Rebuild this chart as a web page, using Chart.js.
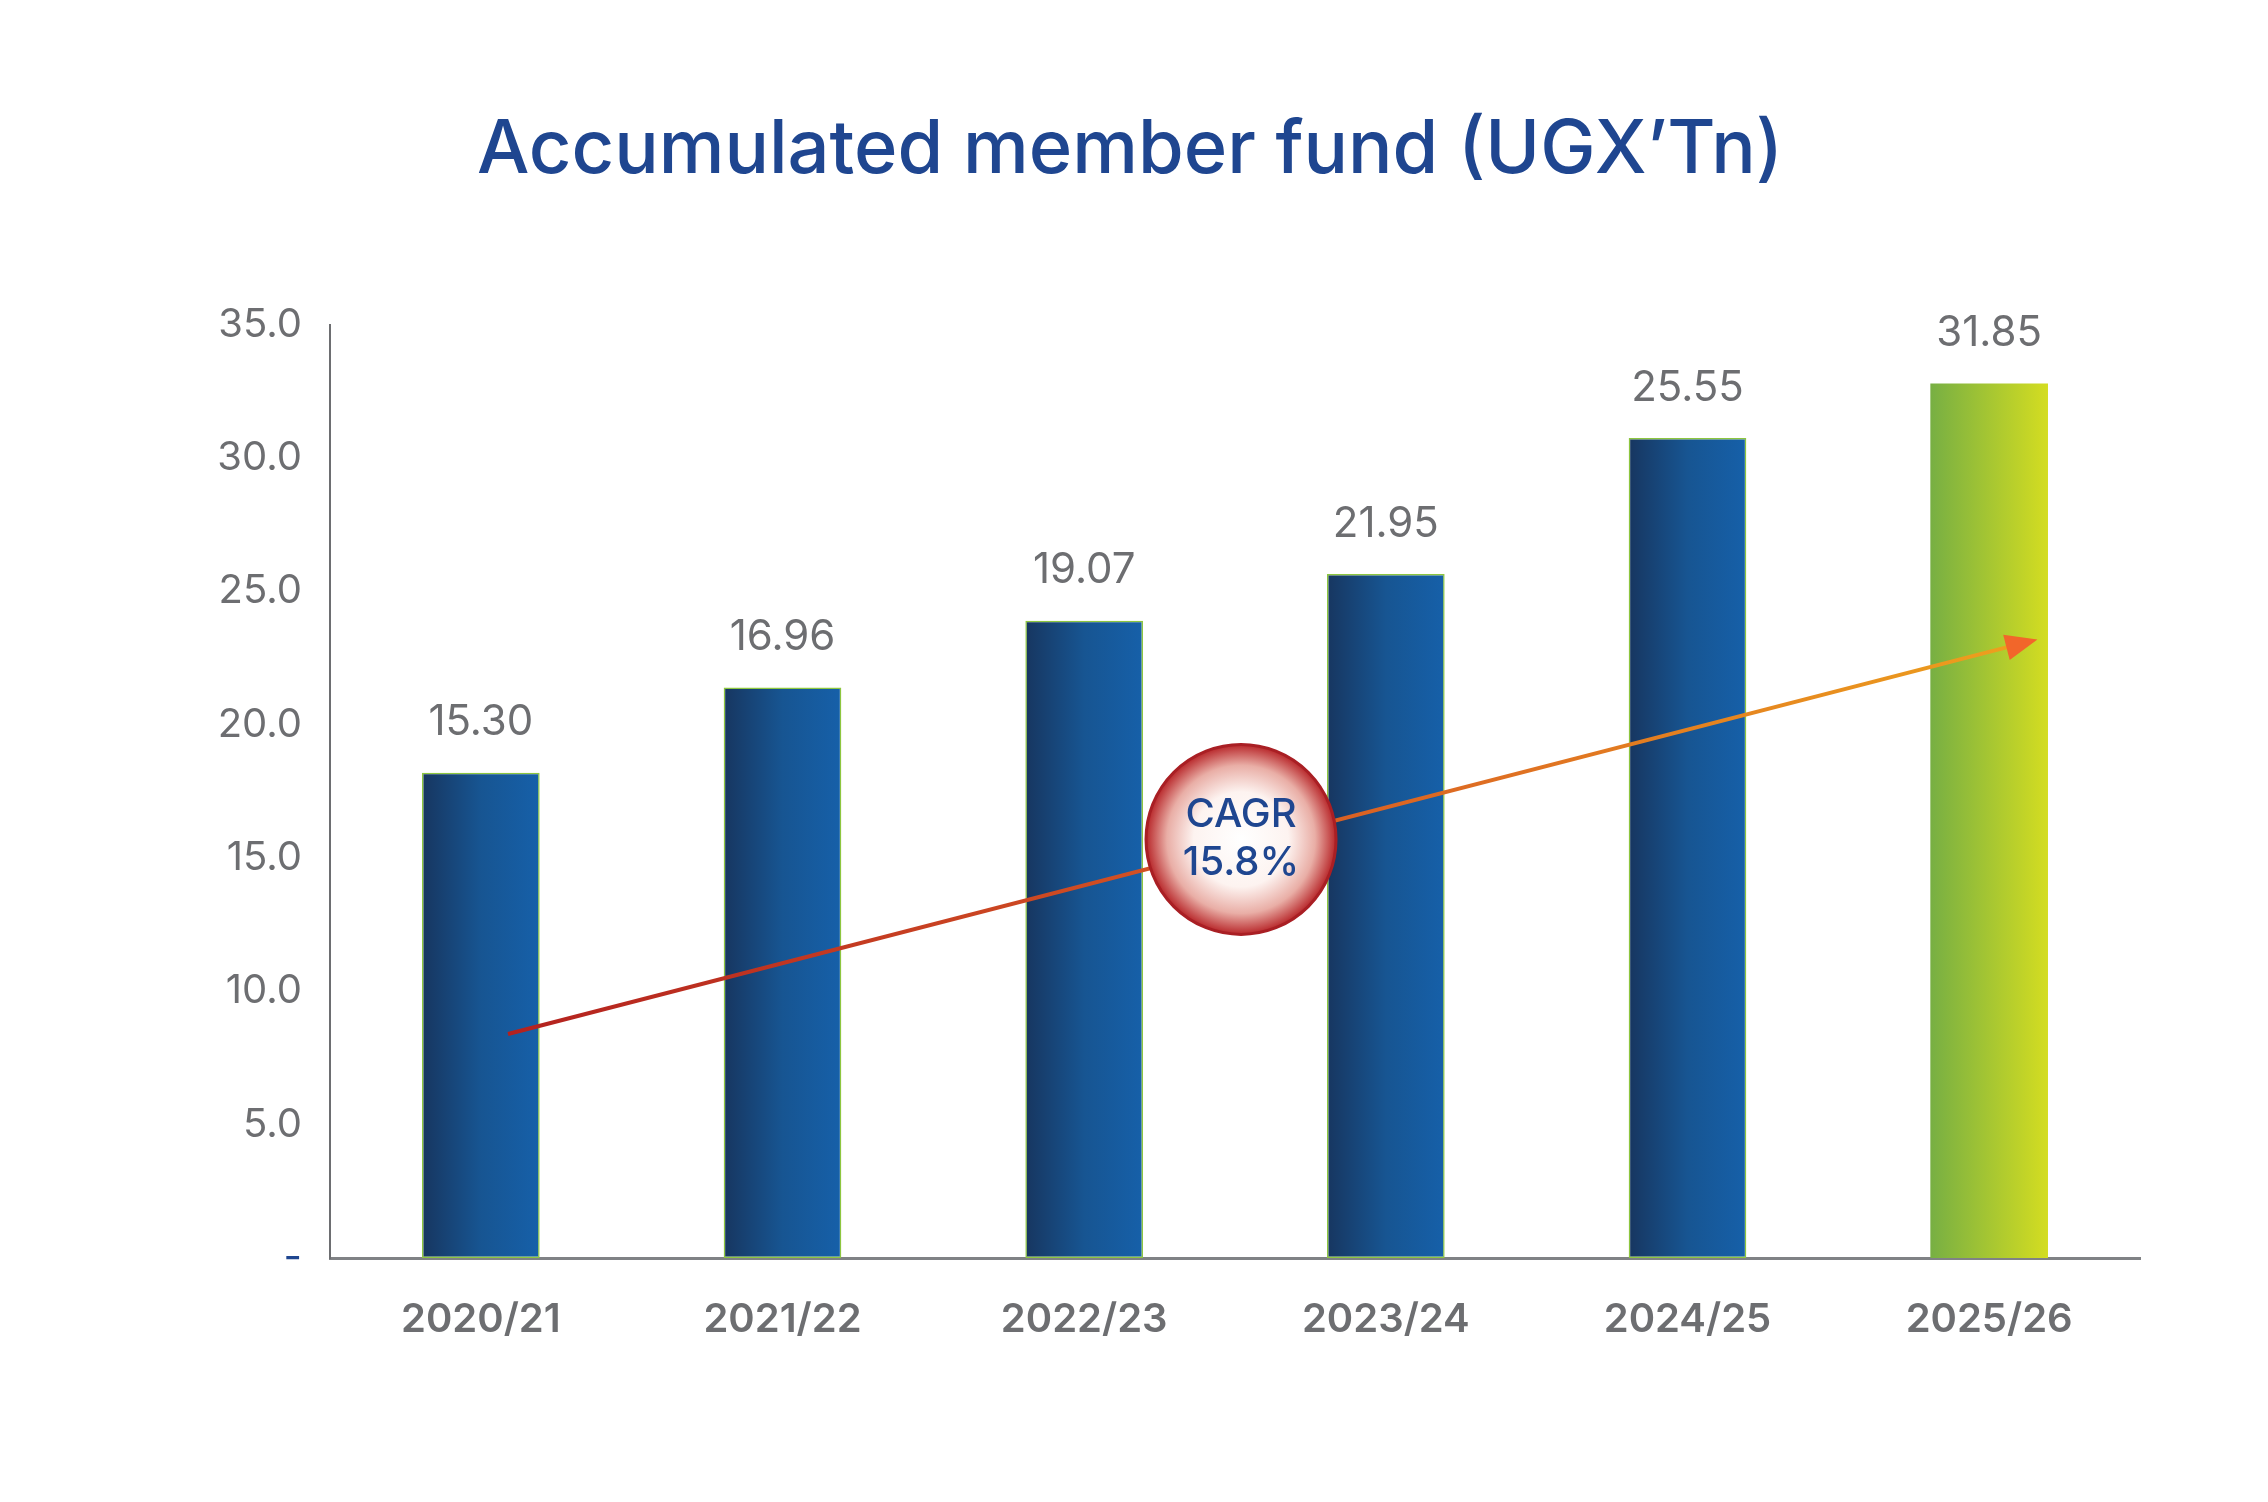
<!DOCTYPE html>
<html><head><meta charset="utf-8">
<script src="https://cdn.jsdelivr.net/npm/chart.js@4.4.1/dist/chart.umd.min.js"></script>
<style>html,body{margin:0;padding:0;background:#fff;} canvas{display:block;}</style>
</head><body>
<div style="width:2268px;height:1502px;"><canvas id="c" width="2268" height="1502"></canvas></div>
<script>
const titleText = 'Accumulated member fund (UGX\u2019Tn)';
const categories = ['2020/21','2021/22','2022/23','2023/24','2024/25','2025/26'];
const barHeights = [18.2, 21.4, 23.9, 25.65, 30.75, 32.8];
const valueLabels = ['15.30','16.96','19.07','21.95','25.55','31.85'];
const yTickLabels = ['-','5.0','10.0','15.0','20.0','25.0','30.0','35.0'];
const cagrText = ['CAGR','15.8%'];
const cagrArrowStart = {x: 0.09, y: 8.4};
const cagrArrowEnd = {x: 5.16, y: 23.2};
const cagrBadge = {x: 2.52, y: 15.7};

const BAR_PCT = 0.39;
const GRAY = '#6d6e71';
const NAVY = '#1f4690';
const FONT = 'Inter, "Noto Sans", sans-serif';

function barFill(ctx) {
  const chart = ctx.chart;
  const xs = chart.scales && chart.scales.x;
  if (!chart.chartArea || !xs) return '#1660a8';
  const i = ctx.dataIndex;
  const cx = xs.getPixelForValue(i);
  const half = (xs.width / categories.length) * BAR_PCT / 2;
  const g = chart.ctx.createLinearGradient(cx - half, 0, cx + half, 0);
  if (i === categories.length - 1) {
    g.addColorStop(0, '#77af43');
    g.addColorStop(1, '#d4dd21');
  } else {
    g.addColorStop(0, '#173660');
    g.addColorStop(0.5, '#175592');
    g.addColorStop(1, '#1660a9');
  }
  return g;
}

const overlay = {
  id: 'overlay',
  afterDatasetsDraw(chart) {
    const c = chart.ctx;
    const xs = chart.scales.x, ys = chart.scales.y;
    const meta = chart.getDatasetMeta(0);
    // value labels
    c.save();
    c.font = '400 42px ' + FONT;
    c.fillStyle = GRAY;
    c.textAlign = 'center';
    c.textBaseline = 'middle';
    meta.data.forEach((bar, i) => {
      c.fillText(valueLabels[i], bar.x, bar.y - 50);
    });
    c.restore();

    // CAGR arrow
    const x0 = xs.getPixelForValue(cagrArrowStart.x), y0 = ys.getPixelForValue(cagrArrowStart.y);
    const x1 = xs.getPixelForValue(cagrArrowEnd.x), y1 = ys.getPixelForValue(cagrArrowEnd.y);
    const ang = Math.atan2(y1 - y0, x1 - x0);
    const headLen = 32, headHalf = 13;
    const bx = x1 - headLen * Math.cos(ang), by = y1 - headLen * Math.sin(ang);
    c.save();
    const lg = c.createLinearGradient(x0, y0, x1, y1);
    lg.addColorStop(0, '#b3211f');
    lg.addColorStop(0.5, '#d85a24');
    lg.addColorStop(1, '#eea21d');
    c.strokeStyle = lg;
    c.lineWidth = 4;
    c.beginPath();
    c.moveTo(x0, y0);
    c.lineTo(bx + 4 * Math.cos(ang), by + 4 * Math.sin(ang));
    c.stroke();
    c.fillStyle = '#f2662a';
    c.beginPath();
    c.moveTo(x1, y1);
    c.lineTo(bx - headHalf * Math.sin(ang), by + headHalf * Math.cos(ang));
    c.lineTo(bx + headHalf * Math.sin(ang), by - headHalf * Math.cos(ang));
    c.closePath();
    c.fill();
    c.restore();

    // CAGR badge
    const cx = xs.getPixelForValue(cagrBadge.x), cy = ys.getPixelForValue(cagrBadge.y);
    const r = 95;
    c.save();
    const rg = c.createRadialGradient(cx, cy, 0, cx, cy, r);
    rg.addColorStop(0, '#ffffff');
    rg.addColorStop(0.5, '#fdf3f0');
    rg.addColorStop(0.78, '#e9aea6');
    rg.addColorStop(1, '#b8272a');
    c.fillStyle = rg;
    c.beginPath();
    c.arc(cx, cy, r, 0, Math.PI * 2);
    c.fill();
    c.lineWidth = 3;
    c.strokeStyle = '#a91f24';
    c.stroke();
    c.fillStyle = NAVY;
    c.textAlign = 'center';
    c.textBaseline = 'middle';
    c.font = '500 40px ' + FONT;
    c.fillText(cagrText[0], cx, cy - 24);
    c.fillText(cagrText[1], cx, cy + 24);
    c.restore();
  }
};

new Chart(document.getElementById('c'), {
  type: 'bar',
  data: {
    labels: categories,
    datasets: [{
      data: barHeights,
      backgroundColor: barFill,
      borderColor: '#8dc63f',
      borderWidth: (ctx) => ctx.dataIndex === categories.length - 1 ? 0 : 1.5,
      borderSkipped: false,
      barPercentage: BAR_PCT,
      categoryPercentage: 1
    }]
  },
  options: {
    responsive: false,
    devicePixelRatio: 1,
    animation: false,
    layout: { padding: { left: 120, right: 128, top: 0, bottom: 94 } },
    plugins: {
      legend: { display: false },
      tooltip: { enabled: false },
      title: {
        display: true,
        text: titleText,
        color: NAVY,
        font: { family: FONT, size: 74, weight: '500', lineHeight: 1.2 },
        padding: { top: 106, bottom: 130 }
      }
    },
    scales: {
      x: {
        grid: { display: false, drawTicks: false },
        border: { display: true, color: '#808285', width: 3 },
        ticks: { color: GRAY, font: { family: FONT, size: 40, weight: '600' }, padding: 38 },
        afterFit: (s) => { s.height = 150; }
      },
      y: {
        min: 0, max: 35,
        grid: { display: false, drawTicks: false },
        border: { display: true, color: GRAY, width: 2 },
        ticks: {
          stepSize: 5,
          padding: 28,
          font: { family: FONT, size: 40, weight: '400' },
          color: (ctx) => ctx.tick && ctx.tick.value === 0 ? NAVY : GRAY,
          callback: (v, i) => yTickLabels[i]
        },
        afterFit: (s) => { s.width = 210; }
      }
    }
  },
  plugins: [overlay]
});
</script>
</body></html>
